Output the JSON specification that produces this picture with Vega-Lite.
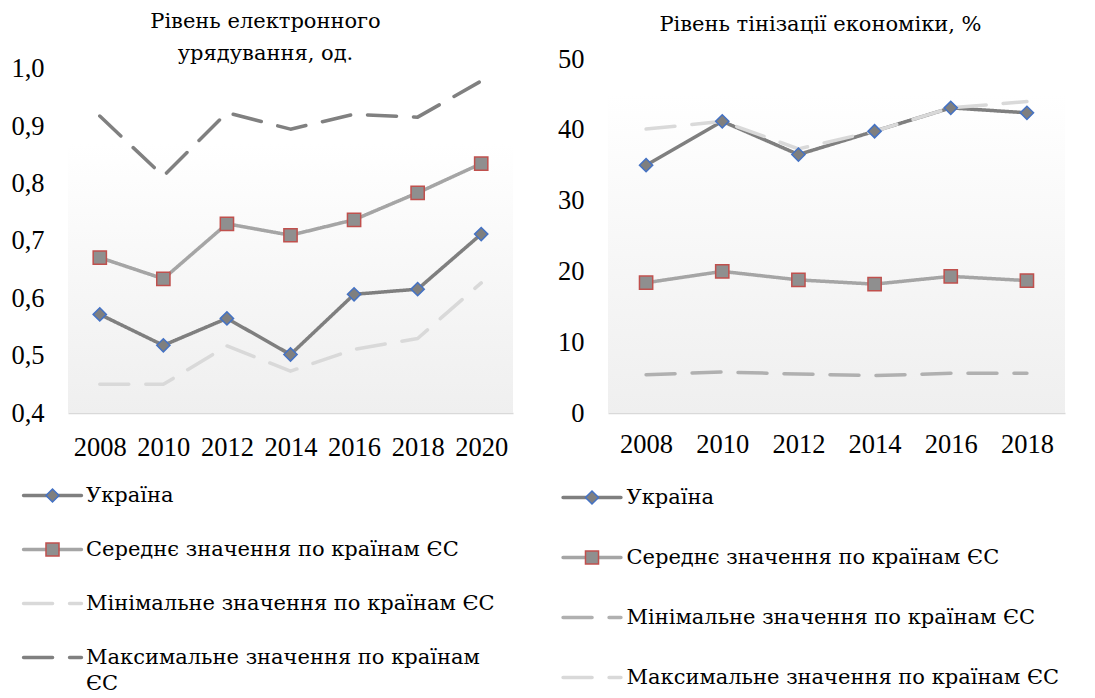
{
  "$schema": "https://vega.github.io/schema/vega-lite/v6.json",
  "padding": {"left": 10, "top": 10, "right": 0, "bottom": 0},
  "background": "white",
  "config": {
    "font": "DejaVu Serif",
    "view": {"stroke": null},
    "axis": {"labelFont": "Liberation Serif", "labelColor": "#000000", "labelFontSize": 26.5, "ticks": false, "grid": false, "title": null},
    "title": {"font": "DejaVu Serif", "fontWeight": "normal", "color": "#000000", "fontSize": 21},
    "legend": {"labelFont": "DejaVu Serif", "labelFontSize": 21, "labelColor": "#000000", "labelLimit": 700, "padding": 0, "title": null}
  },
  "datasets": {
    "egov": [
      {"year": 2008, "series": "Україна", "value": 0.572},
      {"year": 2010, "series": "Україна", "value": 0.518},
      {"year": 2012, "series": "Україна", "value": 0.565},
      {"year": 2014, "series": "Україна", "value": 0.502},
      {"year": 2016, "series": "Україна", "value": 0.607},
      {"year": 2018, "series": "Україна", "value": 0.616},
      {"year": 2020, "series": "Україна", "value": 0.712},
      {"year": 2008, "series": "Середнє значення по країнам ЄС", "value": 0.671},
      {"year": 2010, "series": "Середнє значення по країнам ЄС", "value": 0.634},
      {"year": 2012, "series": "Середнє значення по країнам ЄС", "value": 0.730},
      {"year": 2014, "series": "Середнє значення по країнам ЄС", "value": 0.710},
      {"year": 2016, "series": "Середнє значення по країнам ЄС", "value": 0.737},
      {"year": 2018, "series": "Середнє значення по країнам ЄС", "value": 0.784},
      {"year": 2020, "series": "Середнє значення по країнам ЄС", "value": 0.835},
      {"year": 2008, "series": "Мінімальне  значення по країнам ЄС", "value": 0.450},
      {"year": 2010, "series": "Мінімальне  значення по країнам ЄС", "value": 0.450},
      {"year": 2012, "series": "Мінімальне  значення по країнам ЄС", "value": 0.517},
      {"year": 2014, "series": "Мінімальне  значення по країнам ЄС", "value": 0.473},
      {"year": 2016, "series": "Мінімальне  значення по країнам ЄС", "value": 0.511},
      {"year": 2018, "series": "Мінімальне  значення по країнам ЄС", "value": 0.530},
      {"year": 2020, "series": "Мінімальне  значення по країнам ЄС", "value": 0.627},
      {"year": 2008, "series": "Максимальне  значення по країнам ЄС", "value": 0.918},
      {"year": 2010, "series": "Максимальне  значення по країнам ЄС", "value": 0.813},
      {"year": 2012, "series": "Максимальне  значення по країнам ЄС", "value": 0.924},
      {"year": 2014, "series": "Максимальне  значення по країнам ЄС", "value": 0.895},
      {"year": 2016, "series": "Максимальне  значення по країнам ЄС", "value": 0.921},
      {"year": 2018, "series": "Максимальне  значення по країнам ЄС", "value": 0.916},
      {"year": 2020, "series": "Максимальне  значення по країнам ЄС", "value": 0.979}
    ],
    "shadow": [
      {"year": 2008, "series": "Україна", "value": 35.0},
      {"year": 2010, "series": "Україна", "value": 41.2},
      {"year": 2012, "series": "Україна", "value": 36.5},
      {"year": 2014, "series": "Україна", "value": 39.8},
      {"year": 2016, "series": "Україна", "value": 43.1},
      {"year": 2018, "series": "Україна", "value": 42.4},
      {"year": 2008, "series": "Середнє значення по країнам ЄС", "value": 18.4},
      {"year": 2010, "series": "Середнє значення по країнам ЄС", "value": 20.0},
      {"year": 2012, "series": "Середнє значення по країнам ЄС", "value": 18.8},
      {"year": 2014, "series": "Середнє значення по країнам ЄС", "value": 18.2},
      {"year": 2016, "series": "Середнє значення по країнам ЄС", "value": 19.3},
      {"year": 2018, "series": "Середнє значення по країнам ЄС", "value": 18.7},
      {"year": 2008, "series": "Мінімальне  значення по країнам ЄС", "value": 5.4},
      {"year": 2010, "series": "Мінімальне  значення по країнам ЄС", "value": 5.8},
      {"year": 2012, "series": "Мінімальне  значення по країнам ЄС", "value": 5.5},
      {"year": 2014, "series": "Мінімальне  значення по країнам ЄС", "value": 5.3},
      {"year": 2016, "series": "Мінімальне  значення по країнам ЄС", "value": 5.6},
      {"year": 2018, "series": "Мінімальне  значення по країнам ЄС", "value": 5.6},
      {"year": 2008, "series": "Максимальне  значення по країнам ЄС", "value": 40.1},
      {"year": 2010, "series": "Максимальне  значення по країнам ЄС", "value": 41.2},
      {"year": 2012, "series": "Максимальне  значення по країнам ЄС", "value": 37.3},
      {"year": 2014, "series": "Максимальне  значення по країнам ЄС", "value": 39.8},
      {"year": 2016, "series": "Максимальне  значення по країнам ЄС", "value": 43.1},
      {"year": 2018, "series": "Максимальне  значення по країнам ЄС", "value": 44.0}
    ]
  },
  "spacing": 44,
  "resolve": {
    "scale": {"color": "independent", "strokeDash": "independent", "shape": "independent", "fill": "independent", "stroke": "independent"},
    "legend": {"color": "independent", "strokeDash": "independent", "shape": "independent", "fill": "independent", "stroke": "independent"}
  },
  "hconcat": [
    {
      "width": 445,
      "height": 354,
      "title": {"text": ["Рівень електронного", "урядування, од."], "lineHeight": 32, "dx": -25, "offset": -8, "anchor": "middle", "frame": "group"},
      "data": {"name": "egov"},
      "layer": [
        {
          "data": {"values": [{}]},
          "mark": {"type": "rect", "strokeWidth": 0, "fill": {"gradient": "linear", "x1": 0, "y1": 0, "x2": 0, "y2": 1, "stops": [{"offset": 0, "color": "#ffffff"}, {"offset": 0.24, "color": "#ffffff"}, {"offset": 1, "color": "#efefef"}]}},
          "encoding": {}
        },
        {
          "mark": {"type": "line", "strokeWidth": 3.5, "strokeCap": "round", "strokeJoin": "round"},
          "encoding": {
            "x": {"field": "year", "type": "ordinal", "axis": {"labelAngle": 0, "labelPadding": 21, "domainColor": "#d9d9d9", "domainWidth": 1.5, "labelOverlap": false, "labelFlush": false, "labelBound": false}},
            "y": {"field": "value", "type": "quantitative", "scale": {"domain": [0.4, 1.0174], "nice": false, "zero": false}, "axis": {"values": [0.4, 0.5, 0.6, 0.7, 0.8, 0.9, 1.0], "labelExpr": "replace(format(datum.value, '.1f'), '.', ',')", "domain": false, "labelPadding": 24}},
            "color": {
              "field": "series", "type": "nominal",
              "scale": {"domain": ["Україна", "Середнє значення по країнам ЄС", "Мінімальне  значення по країнам ЄС", "Максимальне  значення по країнам ЄС"], "range": ["#7f7f7f", "#a5a5a5", "#d9d9d9", "#808080"]},
              "legend": {"orient": "none", "legendX": -47, "legendY": 426, "direction": "vertical", "rowPadding": 32, "symbolType": "M-5,0H5", "symbolSize": 134, "symbolStrokeWidth": 3.5, "symbolOffset": 21, "labelOffset": 23,
                "labelExpr": "indexof(datum.label, 'Максимальне') === 0 ? ['Максимальне  значення по країнам', 'ЄС'] : datum.label",
                "encode": {"symbols": {"update": {"strokeCap": {"value": "round"}}}, "labels": {"update": {"lineHeight": {"value": 26}}}}}
            },
            "strokeDash": {
              "field": "series", "type": "nominal",
              "scale": {"domain": ["Україна", "Середнє значення по країнам ЄС", "Мінімальне  значення по країнам ЄС", "Максимальне  значення по країнам ЄС"], "range": [[1, 0], [1, 0], [29, 17], [29, 17]]},
              "legend": {"orient": "none", "legendX": -47, "legendY": 426, "direction": "vertical", "rowPadding": 32, "symbolType": "M-5,0H5", "symbolSize": 134, "symbolStrokeWidth": 3.5, "symbolOffset": 21, "labelOffset": 23,
                "labelExpr": "indexof(datum.label, 'Максимальне') === 0 ? ['Максимальне  значення по країнам', 'ЄС'] : datum.label",
                "encode": {"symbols": {"update": {"strokeCap": {"value": "round"}}}, "labels": {"update": {"lineHeight": {"value": 26}}}}}
            }
          }
        },
        {
          "transform": [{"filter": {"field": "series", "oneOf": ["Україна", "Середнє значення по країнам ЄС"]}}],
          "mark": {"type": "point", "filled": true, "strokeWidth": 1.5, "size": 175, "opacity": 1},
          "encoding": {
            "x": {"field": "year", "type": "ordinal"},
            "y": {"field": "value", "type": "quantitative"},
            "shape": {"field": "series", "type": "nominal", "scale": {"domain": ["Україна", "Середнє значення по країнам ЄС"], "range": ["diamond", "square"]},
              "legend": {"orient": "none", "legendX": -47, "legendY": 426, "direction": "vertical", "rowPadding": 32, "symbolSize": 170, "symbolStrokeWidth": 1.5, "symbolOffset": 21, "labelOffset": 23, "labelOpacity": 0}},
            "fill": {"field": "series", "type": "nominal", "scale": {"domain": ["Україна", "Середнє значення по країнам ЄС"], "range": ["#7f7f7f", "#8f8f8f"]},
              "legend": {"orient": "none", "legendX": -47, "legendY": 426, "direction": "vertical", "rowPadding": 32, "symbolSize": 170, "symbolStrokeWidth": 1.5, "symbolOffset": 21, "labelOffset": 23, "labelOpacity": 0}},
            "stroke": {"field": "series", "type": "nominal", "scale": {"domain": ["Україна", "Середнє значення по країнам ЄС"], "range": ["#4472c4", "#c0504d"]},
              "legend": {"orient": "none", "legendX": -47, "legendY": 426, "direction": "vertical", "rowPadding": 32, "symbolSize": 170, "symbolStrokeWidth": 1.5, "symbolOffset": 21, "labelOffset": 23, "labelOpacity": 0}}
          }
        }
      ]
    },
    {
      "width": 457,
      "height": 354,
      "title": {"text": "Рівень тінізації економіки, %", "dx": -16, "offset": 11, "anchor": "middle", "frame": "group"},
      "data": {"name": "shadow"},
      "layer": [
        {
          "data": {"values": [{}]},
          "mark": {"type": "rect", "strokeWidth": 0, "fill": {"gradient": "linear", "x1": 0, "y1": 0, "x2": 0, "y2": 1, "stops": [{"offset": 0, "color": "#ffffff"}, {"offset": 0.1, "color": "#ffffff"}, {"offset": 1, "color": "#efefef"}]}},
          "encoding": {}
        },
        {
          "mark": {"type": "line", "strokeWidth": 3.5, "strokeCap": "round", "strokeJoin": "round"},
          "encoding": {
            "x": {"field": "year", "type": "ordinal", "axis": {"labelAngle": 0, "labelPadding": 18, "domainColor": "#d9d9d9", "domainWidth": 1.5, "labelOverlap": false, "labelFlush": false, "labelBound": false}},
            "y": {"field": "value", "type": "quantitative", "scale": {"domain": [0, 50], "nice": false}, "axis": {"values": [0, 10, 20, 30, 40, 50], "domain": false, "labelPadding": 24}},
            "color": {
              "field": "series", "type": "nominal",
              "scale": {"domain": ["Україна", "Середнє значення по країнам ЄС", "Мінімальне  значення по країнам ЄС", "Максимальне  значення по країнам ЄС"], "range": ["#7f7f7f", "#a5a5a5", "#b0b0b0", "#d9d9d9"]},
              "legend": {"orient": "none", "legendX": -48, "legendY": 428, "direction": "vertical", "rowPadding": 38, "symbolType": "M-5,0H5", "symbolSize": 134, "symbolStrokeWidth": 3.5, "symbolOffset": 21.5, "labelOffset": 24,
                "encode": {"symbols": {"update": {"strokeCap": {"value": "round"}}}}}
            },
            "strokeDash": {
              "field": "series", "type": "nominal",
              "scale": {"domain": ["Україна", "Середнє значення по країнам ЄС", "Мінімальне  значення по країнам ЄС", "Максимальне  значення по країнам ЄС"], "range": [[1, 0], [1, 0], [29, 17], [29, 17]]},
              "legend": {"orient": "none", "legendX": -48, "legendY": 428, "direction": "vertical", "rowPadding": 38, "symbolType": "M-5,0H5", "symbolSize": 134, "symbolStrokeWidth": 3.5, "symbolOffset": 21.5, "labelOffset": 24,
                "encode": {"symbols": {"update": {"strokeCap": {"value": "round"}}}}}
            }
          }
        },
        {
          "transform": [{"filter": {"field": "series", "oneOf": ["Україна", "Середнє значення по країнам ЄС"]}}],
          "mark": {"type": "point", "filled": true, "strokeWidth": 1.5, "size": 175, "opacity": 1},
          "encoding": {
            "x": {"field": "year", "type": "ordinal"},
            "y": {"field": "value", "type": "quantitative"},
            "shape": {"field": "series", "type": "nominal", "scale": {"domain": ["Україна", "Середнє значення по країнам ЄС"], "range": ["diamond", "square"]},
              "legend": {"orient": "none", "legendX": -48, "legendY": 428, "direction": "vertical", "rowPadding": 38, "symbolSize": 170, "symbolStrokeWidth": 1.5, "symbolOffset": 21.5, "labelOffset": 24, "labelOpacity": 0}},
            "fill": {"field": "series", "type": "nominal", "scale": {"domain": ["Україна", "Середнє значення по країнам ЄС"], "range": ["#7f7f7f", "#8f8f8f"]},
              "legend": {"orient": "none", "legendX": -48, "legendY": 428, "direction": "vertical", "rowPadding": 38, "symbolSize": 170, "symbolStrokeWidth": 1.5, "symbolOffset": 21.5, "labelOffset": 24, "labelOpacity": 0}},
            "stroke": {"field": "series", "type": "nominal", "scale": {"domain": ["Україна", "Середнє значення по країнам ЄС"], "range": ["#4472c4", "#c0504d"]},
              "legend": {"orient": "none", "legendX": -48, "legendY": 428, "direction": "vertical", "rowPadding": 38, "symbolSize": 170, "symbolStrokeWidth": 1.5, "symbolOffset": 21.5, "labelOffset": 24, "labelOpacity": 0}}
          }
        }
      ]
    }
  ]
}
